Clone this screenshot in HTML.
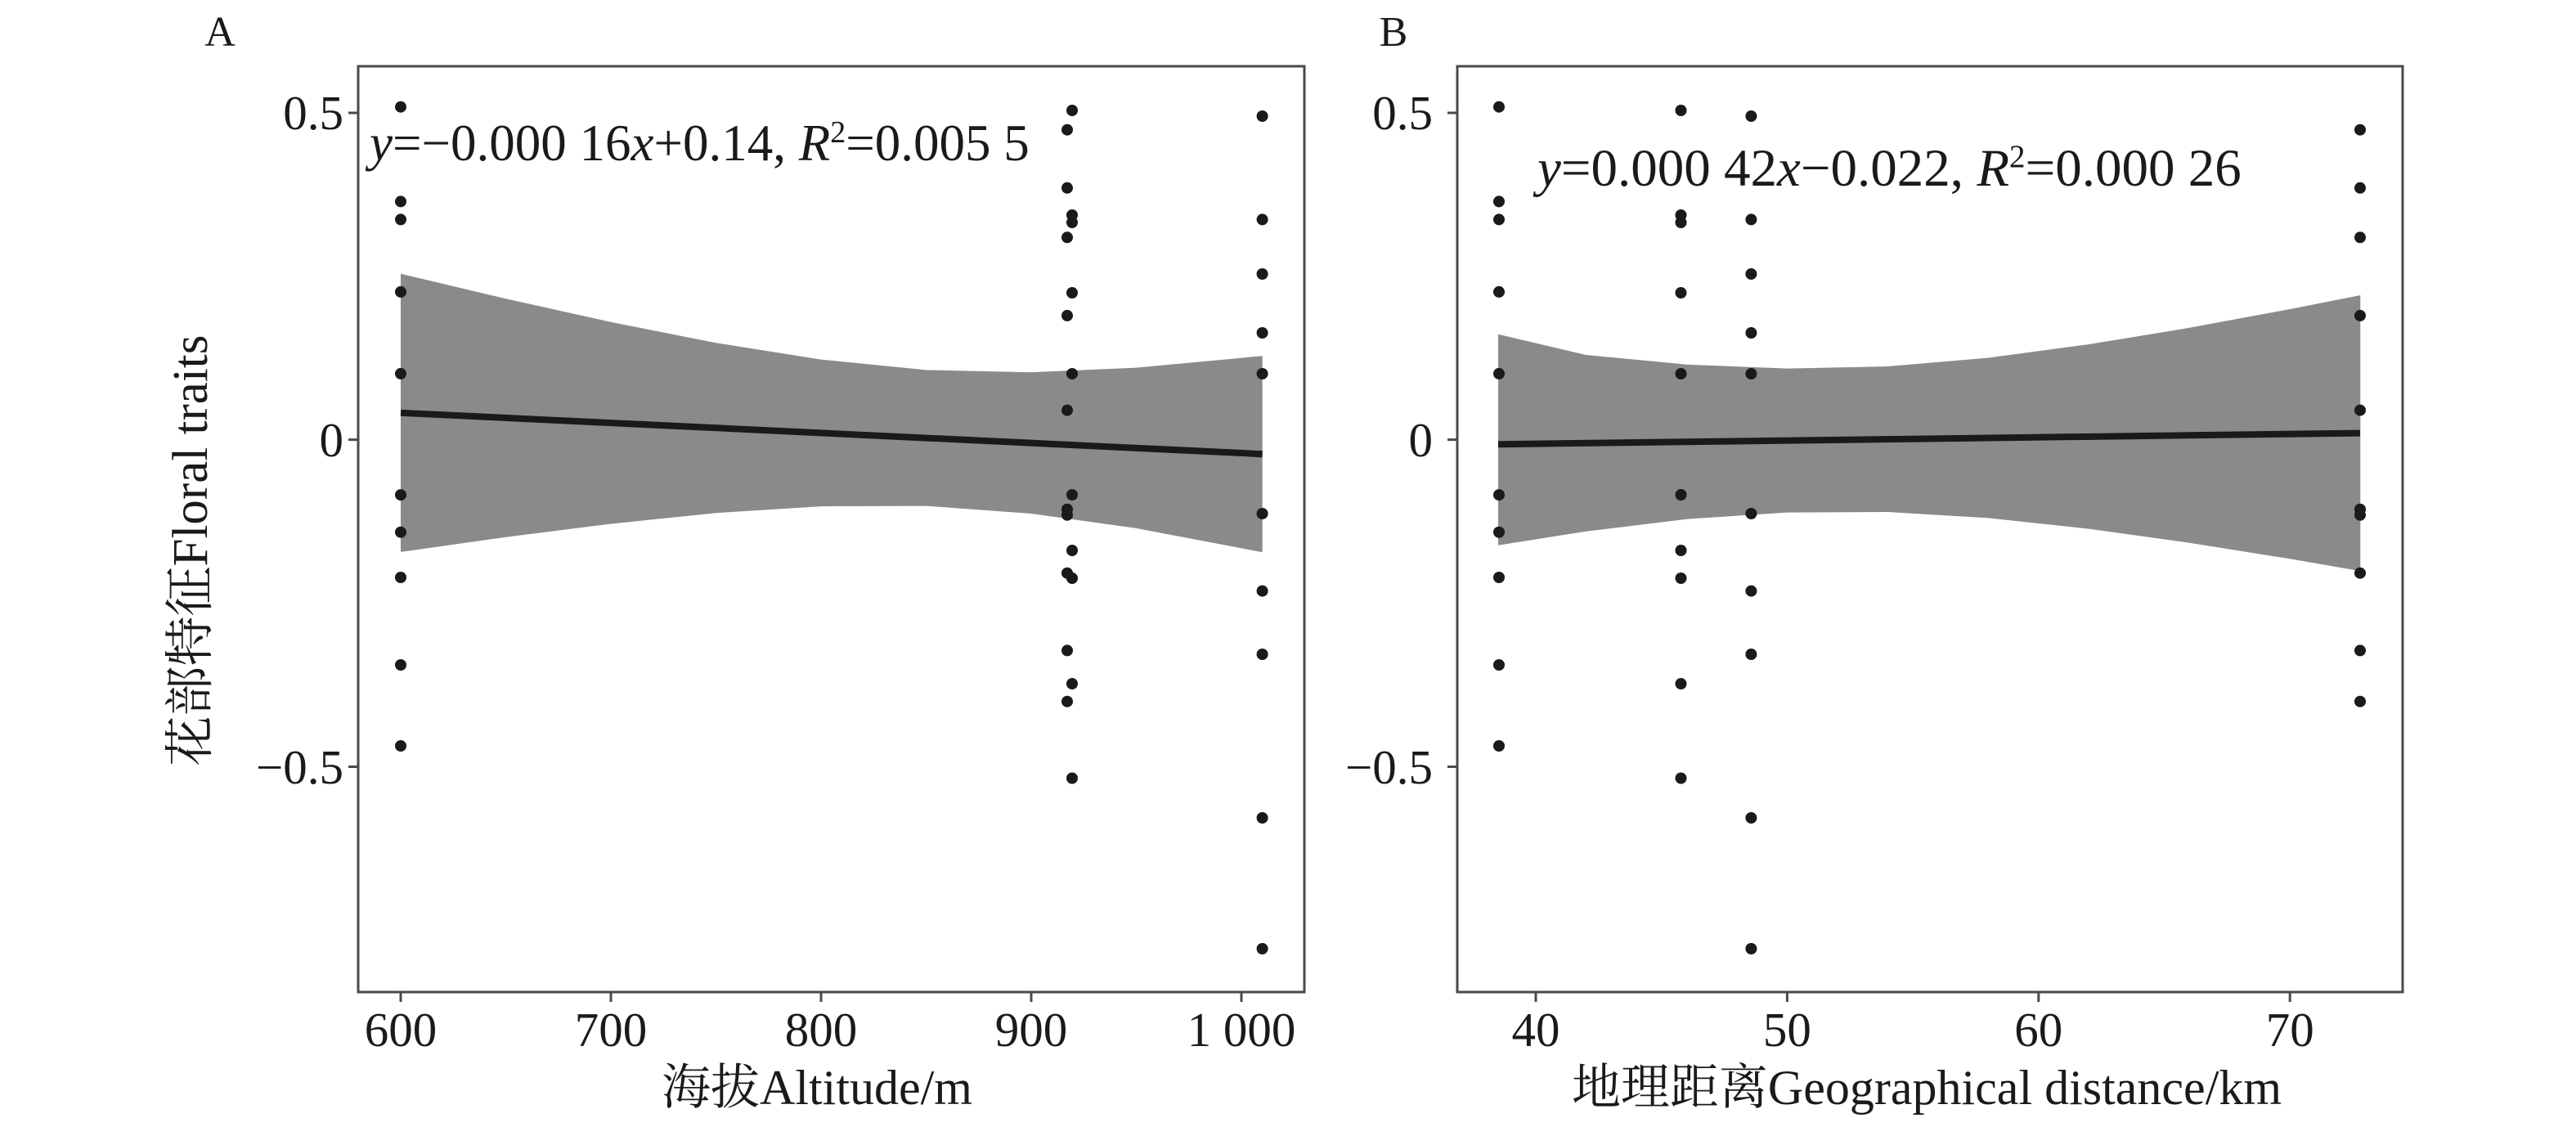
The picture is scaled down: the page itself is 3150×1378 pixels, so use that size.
<!DOCTYPE html>
<html><head><meta charset="utf-8"><style>
html,body{margin:0;padding:0;background:#fff;}
svg{display:block;}
text{font-family:"Liberation Serif","Noto Serif CJK SC","Noto Sans CJK SC",serif;fill:#1a1a1a;}
</style></head><body>
<svg width="3150" height="1378" viewBox="0 0 3150 1378" xmlns="http://www.w3.org/2000/svg">
<rect width="3150" height="1378" fill="#fff"/>
<!-- Panel A -->
<text x="269" y="56" font-size="52" text-anchor="middle">A</text>
<polygon fill="#8a8a8a" points="490,334.7 618.5,365.2 747,393.8 875.5,419.2 1004,439.6 1132.5,452.4 1261,455.2 1389.5,449.6 1543.7,435.2 1543.7,675.2 1389.5,645.9 1261,628 1132.5,618.6 1004,619.1 875.5,627.2 747,640.5 618.5,656.7 490,674.9"/>
<line x1="490" y1="504.8" x2="1543.7" y2="555.2" stroke="#1a1a1a" stroke-width="8"/>
<g fill="#1a1a1a">
<circle cx="490" cy="130.7" r="7"/><circle cx="490" cy="246.4" r="7"/><circle cx="490" cy="268.4" r="7"/><circle cx="490" cy="356.9" r="7"/><circle cx="490" cy="456.9" r="7"/><circle cx="490" cy="605.1" r="7"/><circle cx="490" cy="650.7" r="7"/><circle cx="490" cy="706" r="7"/><circle cx="490" cy="813" r="7"/><circle cx="490" cy="912" r="7"/>
<circle cx="1311" cy="135" r="7"/><circle cx="1311" cy="263" r="7"/><circle cx="1311" cy="272" r="7"/><circle cx="1311" cy="358" r="7"/><circle cx="1311" cy="457" r="7"/><circle cx="1311" cy="605" r="7"/><circle cx="1311" cy="673" r="7"/><circle cx="1311" cy="707" r="7"/><circle cx="1311" cy="836" r="7"/><circle cx="1311" cy="951.5" r="7"/>
<circle cx="1305" cy="158.7" r="7"/><circle cx="1305" cy="229.8" r="7"/><circle cx="1305" cy="290.3" r="7"/><circle cx="1305" cy="385.9" r="7"/><circle cx="1305" cy="501.6" r="7"/><circle cx="1305" cy="622.7" r="7"/><circle cx="1305" cy="629.7" r="7"/><circle cx="1305" cy="700.7" r="7"/><circle cx="1305" cy="795.4" r="7"/><circle cx="1305" cy="857.7" r="7"/>
<circle cx="1543.6" cy="142" r="7"/><circle cx="1543.6" cy="268.4" r="7"/><circle cx="1543.6" cy="335" r="7"/><circle cx="1543.6" cy="407" r="7"/><circle cx="1543.6" cy="457" r="7"/><circle cx="1543.6" cy="628" r="7"/><circle cx="1543.6" cy="722.6" r="7"/><circle cx="1543.6" cy="800" r="7"/><circle cx="1543.6" cy="1000" r="7"/><circle cx="1543.6" cy="1160" r="7"/>
</g>
<rect x="438" y="81" width="1157" height="1132" fill="none" stroke="#4a4a4a" stroke-width="3"/>
<g stroke="#4a4a4a" stroke-width="3">
<line x1="426" y1="138" x2="438" y2="138"/><line x1="426" y1="537.6" x2="438" y2="537.6"/><line x1="426" y1="937.5" x2="438" y2="937.5"/>
<line x1="490" y1="1213" x2="490" y2="1225"/><line x1="747" y1="1213" x2="747" y2="1225"/><line x1="1004" y1="1213" x2="1004" y2="1225"/><line x1="1261" y1="1213" x2="1261" y2="1225"/><line x1="1518" y1="1213" x2="1518" y2="1225"/>
</g>
<g font-size="59" text-anchor="end">
<text x="420" y="158">0.5</text><text x="420" y="558">0</text><text x="420" y="958">−0.5</text>
</g>
<g font-size="59" text-anchor="middle">
<text x="490" y="1279">600</text><text x="747" y="1279">700</text><text x="1004" y="1279">800</text><text x="1261" y="1279">900</text><text x="1518" y="1279">1 000</text>
</g>
<text x="999" y="1350" font-size="60" text-anchor="middle">海拔Altitude/m</text>
<text transform="translate(253,673) rotate(-90)" font-size="61" text-anchor="middle">花部特征Floral traits</text>
<text x="452" y="196" font-size="63"><tspan font-style="italic">y</tspan>=−0.000 16<tspan font-style="italic">x</tspan>+0.14, <tspan font-style="italic">R</tspan><tspan font-size="38" dy="-22">2</tspan><tspan dy="22">=0.005 5</tspan></text>

<!-- Panel B -->
<text x="1704" y="56" font-size="52" text-anchor="middle">B</text>
<polygon fill="#8a8a8a" points="1832,408.7 1939.5,434 2062.4,445.7 2185.4,450.6 2308.4,448 2431.3,437.5 2554.3,421 2677.3,400.8 2800.2,378 2886.3,361 2886.3,698.2 2800.2,683.3 2677.3,663.7 2554.3,646.6 2431.3,633.4 2308.4,626 2185.4,626.6 2062.4,634.8 1939.5,649.7 1832,666.7"/>
<line x1="1832" y1="543.2" x2="2886" y2="529.6" stroke="#1a1a1a" stroke-width="8"/>
<g fill="#1a1a1a">
<circle cx="1833" cy="130.7" r="7"/><circle cx="1833" cy="246.4" r="7"/><circle cx="1833" cy="268.4" r="7"/><circle cx="1833" cy="356.9" r="7"/><circle cx="1833" cy="456.9" r="7"/><circle cx="1833" cy="605.1" r="7"/><circle cx="1833" cy="650.7" r="7"/><circle cx="1833" cy="706" r="7"/><circle cx="1833" cy="813" r="7"/><circle cx="1833" cy="912" r="7"/>
<circle cx="2055.5" cy="135" r="7"/><circle cx="2055.5" cy="263" r="7"/><circle cx="2055.5" cy="272" r="7"/><circle cx="2055.5" cy="358" r="7"/><circle cx="2055.5" cy="457" r="7"/><circle cx="2055.5" cy="605" r="7"/><circle cx="2055.5" cy="673" r="7"/><circle cx="2055.5" cy="707" r="7"/><circle cx="2055.5" cy="836" r="7"/><circle cx="2055.5" cy="951.5" r="7"/>
<circle cx="2141.4" cy="142" r="7"/><circle cx="2141.4" cy="268.4" r="7"/><circle cx="2141.4" cy="335" r="7"/><circle cx="2141.4" cy="407" r="7"/><circle cx="2141.4" cy="457" r="7"/><circle cx="2141.4" cy="628" r="7"/><circle cx="2141.4" cy="722.6" r="7"/><circle cx="2141.4" cy="800" r="7"/><circle cx="2141.4" cy="1000" r="7"/><circle cx="2141.4" cy="1160" r="7"/>
<circle cx="2886" cy="158.7" r="7"/><circle cx="2886" cy="229.8" r="7"/><circle cx="2886" cy="290.3" r="7"/><circle cx="2886" cy="385.9" r="7"/><circle cx="2886" cy="501.6" r="7"/><circle cx="2886" cy="622.7" r="7"/><circle cx="2886" cy="629.7" r="7"/><circle cx="2886" cy="700.7" r="7"/><circle cx="2886" cy="795.4" r="7"/><circle cx="2886" cy="857.7" r="7"/>
</g>
<rect x="1782" y="81" width="1156" height="1132" fill="none" stroke="#4a4a4a" stroke-width="3"/>
<g stroke="#4a4a4a" stroke-width="3">
<line x1="1770" y1="138" x2="1782" y2="138"/><line x1="1770" y1="537.6" x2="1782" y2="537.6"/><line x1="1770" y1="937.5" x2="1782" y2="937.5"/>
<line x1="1878" y1="1213" x2="1878" y2="1225"/><line x1="2185.4" y1="1213" x2="2185.4" y2="1225"/><line x1="2492.8" y1="1213" x2="2492.8" y2="1225"/><line x1="2800.2" y1="1213" x2="2800.2" y2="1225"/>
</g>
<g font-size="59" text-anchor="end">
<text x="1752" y="158">0.5</text><text x="1752" y="558">0</text><text x="1752" y="958">−0.5</text>
</g>
<g font-size="59" text-anchor="middle">
<text x="1878" y="1279">40</text><text x="2185.4" y="1279">50</text><text x="2492.8" y="1279">60</text><text x="2800.2" y="1279">70</text>
</g>
<text x="2356" y="1350" font-size="60" text-anchor="middle">地理距离Geographical distance/km</text>
<text x="1880" y="227" font-size="65"><tspan font-style="italic">y</tspan>=0.000 42<tspan font-style="italic">x</tspan>−0.022, <tspan font-style="italic">R</tspan><tspan font-size="39" dy="-23">2</tspan><tspan dy="23">=0.000 26</tspan></text>
</svg>
</body></html>
